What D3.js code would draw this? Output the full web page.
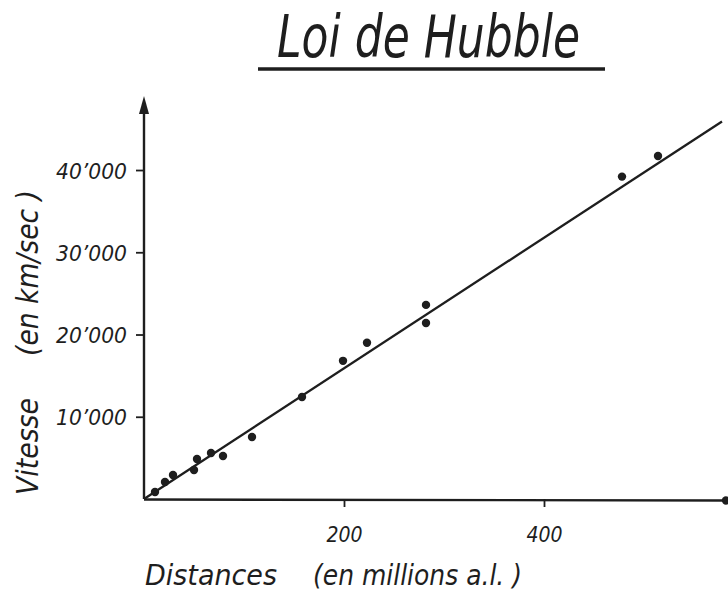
<!DOCTYPE html>
<html>
<head>
<meta charset="utf-8">
<script src="https://cdn.jsdelivr.net/npm/d3@7"></script>
<style>
    body { margin: 0; background: #ffffff; }
    svg { display: block; }
    text {
        font-family: 'DejaVu Sans Condensed', 'DejaVu Sans', sans-serif;
        font-style: oblique;
        fill: #1e1e1e;
    }
    .tick text {
        font-family: 'DejaVu Sans Condensed', 'DejaVu Sans', sans-serif;
        font-size: 21px;
    }
</style>
</head>
<body>
<div id="chart"></div>
<script>
// distances (millions a.l.) and velocities (km/sec)
let distances = [11, 21, 29, 50, 53, 67, 79, 108, 158, 199, 223, 282, 282, 478, 514];
let velocities = [850, 2070, 2920, 3530, 4870, 5600, 5230, 7540, 12400, 16800, 19000, 23600, 21400, 39200, 41700];
// the drawn fit line, from origin to the right edge
let fitDistances = [0, 578];
let fitVelocities = [0, 45900];
let xTicks = [200, 400];
let yTicks = [10000, 20000, 30000, 40000];
let yTickLabels = ["10’000", "20’000", "30’000", "40’000"];

var width = 728;
var height = 594;
var ink = "#1e1e1e";

let svg = d3.select("#chart").append("svg").attr("width", width).attr("height", height);

let x = d3.scaleLinear().domain([0, 584]).range([144, 728]);
let y = d3.scaleLinear().domain([0, 49000]).range([499, 96]);

// title + underline
svg.append("text").attr("x", 277).attr("y", 57).text("Loi de Hubble")
    .attr("font-size", 58).attr("textLength", 303).attr("lengthAdjust", "spacingAndGlyphs");
svg.append("line").attr("x1", 258).attr("x2", 605).attr("y1", 69).attr("y2", 69)
    .attr("stroke", ink).attr("stroke-width", 3.5);

// axes lines, arrow on y, blob at the x end
svg.append("line").attr("x1", x(0)).attr("y1", y(0)).attr("x2", x(0)).attr("y2", y(47000))
    .attr("stroke", ink).attr("stroke-width", 2.4);
svg.append("path").attr("d", `M${x(0)},${y(49000)} L${x(0) - 5},${y(49000) + 18} L${x(0) + 5},${y(49000) + 18} Z`)
    .attr("fill", ink);
svg.append("line").attr("x1", x(0)).attr("y1", y(0) + 0.5).attr("x2", x(584)).attr("y2", y(0) + 1.5)
    .attr("stroke", ink).attr("stroke-width", 2.4);
svg.append("circle").attr("cx", x(582)).attr("cy", y(0) + 1.5).attr("r", 4.2).attr("fill", ink);

// ticks
let yAxis = d3.axisLeft(y).tickValues(yTicks).tickSize(8).tickPadding(9)
    .tickFormat((d, i) => yTickLabels[i]);
let gy = svg.append("g").attr("transform", `translate(${x(0)},0)`).call(yAxis);
gy.select(".domain").remove();
gy.selectAll(".tick line").attr("stroke", ink).attr("stroke-width", 1.8);
gy.selectAll(".tick text").attr("fill", ink).attr("dy", "0.38em")
    .attr("textLength", 71).attr("lengthAdjust", "spacingAndGlyphs");

let xAxis = d3.axisBottom(x).tickValues(xTicks).tickSize(8).tickPadding(20);
let gx = svg.append("g").attr("transform", `translate(0,${y(0)})`).call(xAxis);
gx.select(".domain").remove();
gx.selectAll(".tick line").attr("stroke", ink).attr("stroke-width", 1.8);
gx.selectAll(".tick text").attr("fill", ink);

// fit line
let fit = fitDistances.map((d, i) => ({x: d, y: fitVelocities[i]}));
let line = d3.line().x(d => x(d.x)).y(d => y(d.y));
svg.append("path").datum(fit).attr("d", line)
    .attr("stroke", ink).attr("stroke-width", 2.3).attr("fill", "none");

// galaxies
svg.selectAll("circle.pt").data(distances).enter().append("circle")
    .attr("class", "pt")
    .attr("cx", d => x(d))
    .attr("cy", (d, i) => y(velocities[i]))
    .attr("r", 4.2)
    .attr("fill", ink);

// axis titles
svg.append("text").attr("x", 145).attr("y", 585).text("Distances")
    .attr("font-size", 29).attr("textLength", 132).attr("lengthAdjust", "spacingAndGlyphs");
svg.append("text").attr("x", 313).attr("y", 585).text("(en millions a.l. )")
    .attr("font-size", 29).attr("textLength", 209).attr("lengthAdjust", "spacingAndGlyphs");

svg.append("text").attr("transform", "translate(38,495) rotate(-90)").text("Vitesse")
    .attr("font-size", 30).attr("textLength", 97).attr("lengthAdjust", "spacingAndGlyphs");
svg.append("text").attr("transform", "translate(38,356) rotate(-90)").text("(en km/sec )")
    .attr("font-size", 30).attr("textLength", 166).attr("lengthAdjust", "spacingAndGlyphs");
</script>
</body>
</html>
